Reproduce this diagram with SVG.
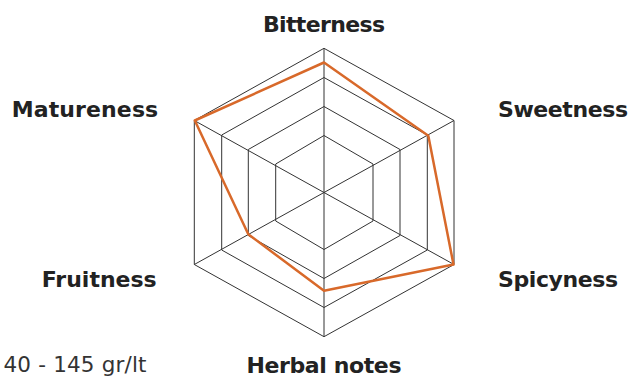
<svg xmlns="http://www.w3.org/2000/svg" width="633" height="379" viewBox="0 0 633 379">
<style>
.grid{fill:none;stroke:#333;stroke-width:1}
.axis{stroke:#333;stroke-width:1}
.val{fill:none;stroke:#d8692a;stroke-width:2.5;stroke-linejoin:round}
.lbl{font-family:"DejaVu Sans",sans-serif;font-weight:bold;font-size:22px;fill:#222}
.note{font-family:"DejaVu Sans",sans-serif;font-size:21.5px;fill:#333}
</style>
<rect width="633" height="379" fill="#fff"/>
<g id="grid">
<polygon class="grid" points="324,48.3 454,120.5 454,264.5 324,336.7 194.3,264.5 194.3,120.5"/>
<polygon class="grid" points="324,77.5 427.3,135 427.3,250 324,307.5 221.7,250 221.7,135"/>
<polygon class="grid" points="324,106.5 400,149.5 400,235.5 324,278.5 248.3,235.5 248.3,149.5"/>
<polygon class="grid" points="324,135.5 373,164 373,221 324,249.5 275.7,221 275.7,164"/>
</g>
<g id="connectors">
<line class="axis" x1="324" y1="192.5" x2="324" y2="48.3"/>
<line class="axis" x1="324" y1="192.5" x2="454" y2="120.5"/>
<line class="axis" x1="324" y1="192.5" x2="454" y2="264.5"/>
<line class="axis" x1="324" y1="192.5" x2="324" y2="336.7"/>
<line class="axis" x1="324" y1="192.5" x2="194.3" y2="264.5"/>
<line class="axis" x1="324" y1="192.5" x2="194.3" y2="120.5"/>
</g>
<g id="values">
<polygon class="val" points="324,62.5 428.3,135.7 453.5,264.5 324,290.7 248.3,234.3 194.8,120.5"/>
</g>
<g id="bitterness"><text class="lbl" x="324" y="31.5" text-anchor="middle" textLength="122">Bitterness</text></g>
<g id="sweetness"><text class="lbl" x="498" y="116.5" textLength="130">Sweetness</text></g>
<g id="spicyness"><text class="lbl" x="498" y="286.5" textLength="120">Spicyness</text></g>
<g id="herbal"><text class="lbl" x="324" y="372.5" text-anchor="middle" textLength="155">Herbal notes</text></g>
<g id="fruitness"><text class="lbl" x="41.7" y="286.5" textLength="115">Fruitness</text></g>
<g id="matureness"><text class="lbl" x="11.7" y="116.5" textLength="146.5">Matureness</text></g>
<g id="range"><text class="note" x="3.5" y="372" textLength="143">40 - 145 gr/lt</text></g>
</svg>
